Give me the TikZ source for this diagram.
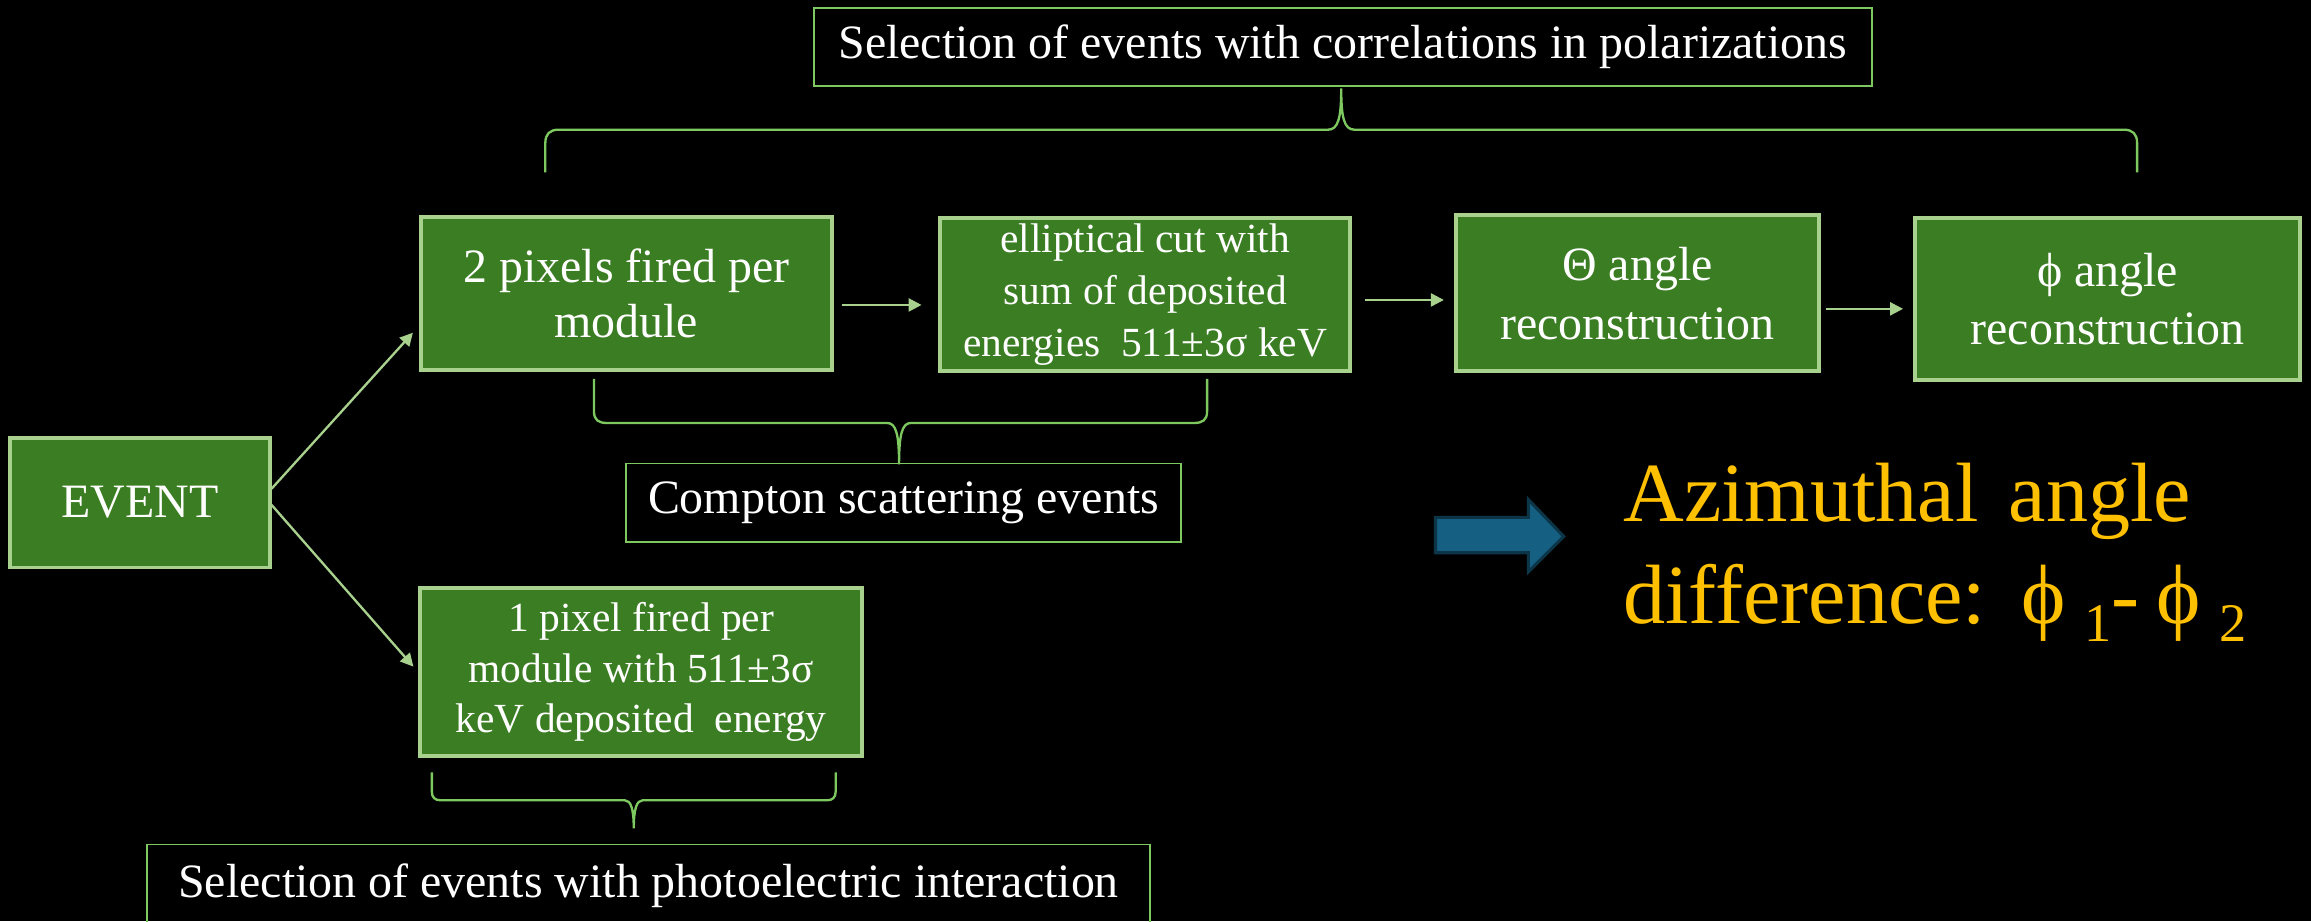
\documentclass[tikz,border=0pt]{standalone}
\usepackage{fontspec}
\setmainfont{Liberation Serif}
\usetikzlibrary{arrows.meta}
\definecolor{boxgreen}{RGB}{59,125,35}
\definecolor{edgegreen}{RGB}{169,209,142}
\definecolor{linegreen}{RGB}{125,200,95}
\definecolor{arrowblue}{RGB}{21,96,130}
\definecolor{arrowedge}{RGB}{12,53,72}
\definecolor{gold}{RGB}{255,192,0}
\begin{document}
\begin{tikzpicture}[x=0.02cm,y=-0.02cm,
  greenbox/.style={draw=edgegreen,line width=1.5pt,fill=boxgreen,text=white,align=center,inner sep=0pt,font=\fontsize{18.5}{21}\selectfont},
  framebox/.style={draw=linegreen,line width=0.7pt,text=white,inner sep=0pt,font=\fontsize{18.5}{22}\selectfont},
  flow/.style={draw=edgegreen,line width=0.9pt,-{Triangle[length=5pt,width=5pt]}},
  bracket/.style={draw=linegreen,line width=0.9pt}]
\path[use as bounding box,fill=black] (0,0) rectangle (1568,625);
\node[framebox,minimum width=408.5pt,minimum height=30.2pt] (sel) at (911,32) {Selection of events with correlations in polarizations};
\node[greenbox,minimum width=100.1pt,minimum height=50.1pt] (event) at (95,341) {EVENT};
\node[greenbox,minimum width=158.8pt,minimum height=59.2pt] (pixtwo) at (425,199) {2 pixels fired per\\module};
\node[greenbox,minimum width=158.2pt,minimum height=59.2pt,font=\fontsize{16}{20}\selectfont] (ellip) at (777,200) {elliptical cut with\\sum of deposited\\energies\ \ 511±3σ keV};
\node[greenbox,minimum width=140pt,minimum height=60.3pt,font=\fontsize{18.5}{22.7}\selectfont] (theta) at (1111,199) {Θ angle\\reconstruction};
\node[greenbox,minimum width=148.5pt,minimum height=62.6pt,font=\fontsize{18.5}{22.2}\selectfont] (phi) at (1430,203) {ϕ angle\\reconstruction};
\node[framebox,minimum width=214.5pt,minimum height=30.2pt] (compton) at (613,341) {Compton scattering events};
\node[greenbox,minimum width=170.7pt,minimum height=64.9pt,font=\fontsize{16}{19.6}\selectfont] (pixone) at (435,456) {1 pixel fired per\\module with 511±3σ\\keV deposited\ \ energy};
\node[framebox,minimum width=387.5pt,minimum height=31.9pt] (photo) at (440,601) {Selection of events with photoelectric interaction};
\node[text=gold,anchor=north west,inner sep=0pt,align=left,font=\fontsize{32.5}{39.2}\selectfont] (azim) at (1101,314) {Azimuthal\hspace{0.36em}angle\\difference:\hspace{0.42em}ϕ\hspace{0.22em}\raisebox{-0.22em}{\fontsize{21}{21}\selectfont 1}-\hspace{0.2em}ϕ\hspace{0.22em}\raisebox{-0.22em}{\fontsize{21}{21}\selectfont 2}};
\draw[flow,shorten >=3.4pt] (event.6) -- (pixtwo.189);
\draw[flow,shorten >=2.8pt] (event.-1) -- (pixone.west);
\draw[flow,shorten <=3pt,shorten >=6.5pt] ([yshift=-4.5pt]pixtwo.east) -- ([yshift=-4.5pt]pixtwo.east -| ellip.west);
\draw[flow,shorten <=5pt,shorten >=4pt] ([yshift=-2pt]ellip.east) -- ([yshift=-2pt]ellip.east -| theta.west);
\draw[flow,shorten <=2pt,shorten >=4pt] ([yshift=-6pt]theta.east) -- ([yshift=-6pt]theta.east -| phi.west);
\draw[bracket] (370,117) -- (370,97) .. controls (370,91) and (373,88) .. (379,88) -- (901,88) .. controls (908,88) and (910,80) .. (910,60) .. controls (910,80) and (912,88) .. (919,88) -- (1441,88) .. controls (1447,88) and (1450,91) .. (1450,97) -- (1450,117);
\draw[bracket] (403,257) -- (403,279) .. controls (403,285) and (406,287) .. (412,287) -- (602,287) .. controls (608,287) and (610,295) .. (610,315) .. controls (610,295) and (612,287) .. (618,287) -- (810,287) .. controls (816,287) and (819,285) .. (819,279) -- (819,257);
\draw[bracket] (293,524) -- (293,537) .. controls (293,541) and (295,543) .. (299,543) -- (424,543) .. controls (428,543) and (430,549) .. (430,562) .. controls (430,549) and (432,543) .. (436,543) -- (561,543) .. controls (565,543) and (567,541) .. (567,537) -- (567,524);
\filldraw[fill=arrowblue,draw=arrowedge,line width=1.2pt] (974,351) -- (1037,351) -- (1037,339) -- (1061,364) -- (1037,388) -- (1037,375) -- (974,375) -- cycle;
\end{tikzpicture}
\end{document}
